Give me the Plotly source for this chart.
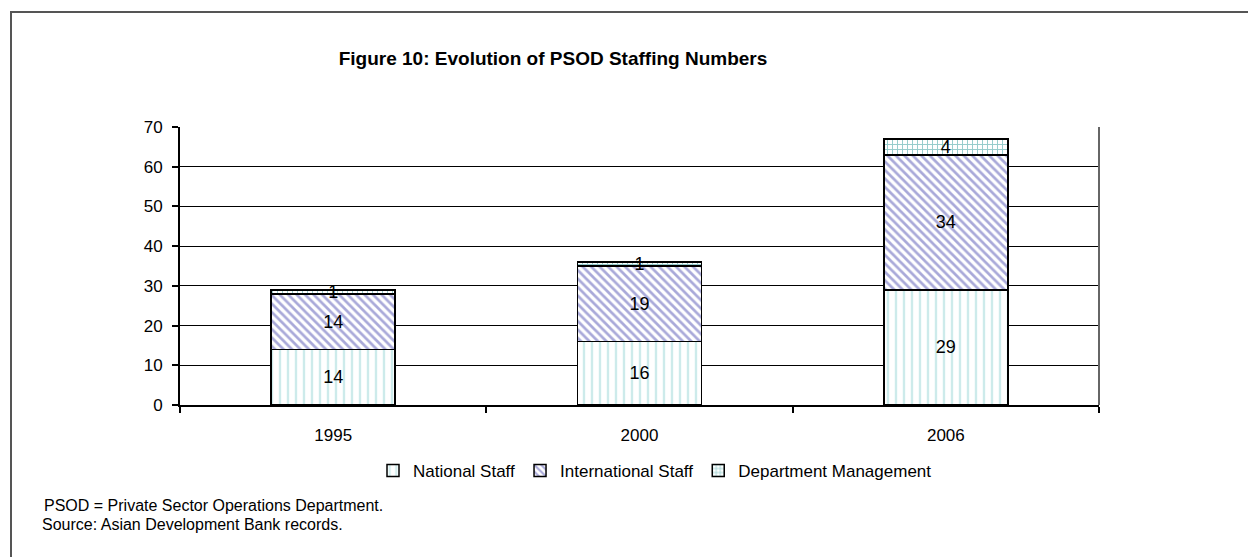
import plotly.graph_objects as go

years = ["1995", "2000", "2006"]
national = [14, 16, 29]
international = [14, 19, 34]
management = [1, 1, 4]
series_names = ["National Staff", "International Staff", "Department Management"]
y_ticks = [0, 10, 20, 30, 40, 50, 60, 70]

FONT = "Arial, Liberation Sans, sans-serif"
W, H = 1248, 557
L, R, T, B = 180, 1099, 127, 405
pw, ph = R - L, B - T

def px_x(x):
    return (x - L) / pw

def px_y(y):
    return (B - y) / ph

fig = go.Figure()
styles = [
    dict(shape="|", fgcolor="#9cd8d8", size=8, solidity=0.3),
    dict(shape="\\", fgcolor="#5454b4", size=6, solidity=0.45),
    dict(shape="+", fgcolor="#2a9898", size=5, solidity=0.35),
]
for name, vals, st in zip(series_names, [national, international, management], styles):
    fig.add_trace(go.Bar(
        x=years, y=vals, name=name,
        text=[str(v) for v in vals], textposition="inside", insidetextanchor="middle",
        textangle=0, constraintext="none",
        textfont=dict(family=FONT, size=18, color="black"),
        marker=dict(color="white", line=dict(color="black", width=1.5),
                    pattern=dict(shape=st["shape"], fgcolor=st["fgcolor"], bgcolor="white",
                                 size=st["size"], solidity=st["solidity"], fillmode="overlay")),
    ))

fig.update_layout(
    width=W, height=H,
    margin=dict(l=L, r=W - R, t=T, b=H - B, pad=0),
    barmode="stack", bargap=0.595,
    plot_bgcolor="white", paper_bgcolor="white",
    font=dict(family=FONT, size=17, color="black"),
    uniformtext=dict(minsize=18, mode="show"),
    title=dict(text="<b>Figure 10: Evolution of PSOD Staffing Numbers</b>",
               x=553 / W, xanchor="center", y=1 - 58 / H, yanchor="middle",
               font=dict(family=FONT, size=19, color="black")),
    legend=dict(orientation="h", x=px_x(655), xanchor="center", y=px_y(471), yanchor="middle",
                font=dict(family=FONT, size=17, color="black"), traceorder="normal",
                itemwidth=30, bgcolor="rgba(0,0,0,0)"),
    xaxis=dict(showline=True, linecolor="black", linewidth=2, ticks="outside",
               tickson="boundaries", ticklen=6, tickcolor="black", tickwidth=2,
               ticklabelstandoff=14,
               tickfont=dict(family=FONT, size=17), showgrid=False),
    yaxis=dict(range=[0, 70], tickvals=y_ticks, showline=True, linecolor="black", linewidth=2,
               ticks="outside", ticklen=6, tickcolor="black", tickwidth=1.5,
               ticklabelstandoff=6,
               showgrid=True, gridcolor="black", gridwidth=1,
               tickfont=dict(family=FONT, size=17), zeroline=False),
    shapes=[
        dict(type="line", xref="paper", yref="paper", x0=1, x1=1, y0=0, y1=1,
             line=dict(color="#666", width=2)),
        dict(type="rect", xref="paper", yref="paper", x0=px_x(11), x1=px_x(1300),
             y0=px_y(700), y1=px_y(12), line=dict(color="#555", width=2),
             fillcolor="rgba(0,0,0,0)", layer="above"),
    ],
    annotations=[
        dict(text="PSOD = Private Sector Operations Department.", xref="paper", yref="paper",
             x=px_x(42), y=px_y(505), xanchor="left", yanchor="middle", showarrow=False,
             font=dict(family=FONT, size=16)),
        dict(text="Source: Asian Development Bank records.", xref="paper", yref="paper",
             x=px_x(40), y=px_y(524), xanchor="left", yanchor="middle", showarrow=False,
             font=dict(family=FONT, size=16)),
    ],
)
fig.write_html("out.html")
